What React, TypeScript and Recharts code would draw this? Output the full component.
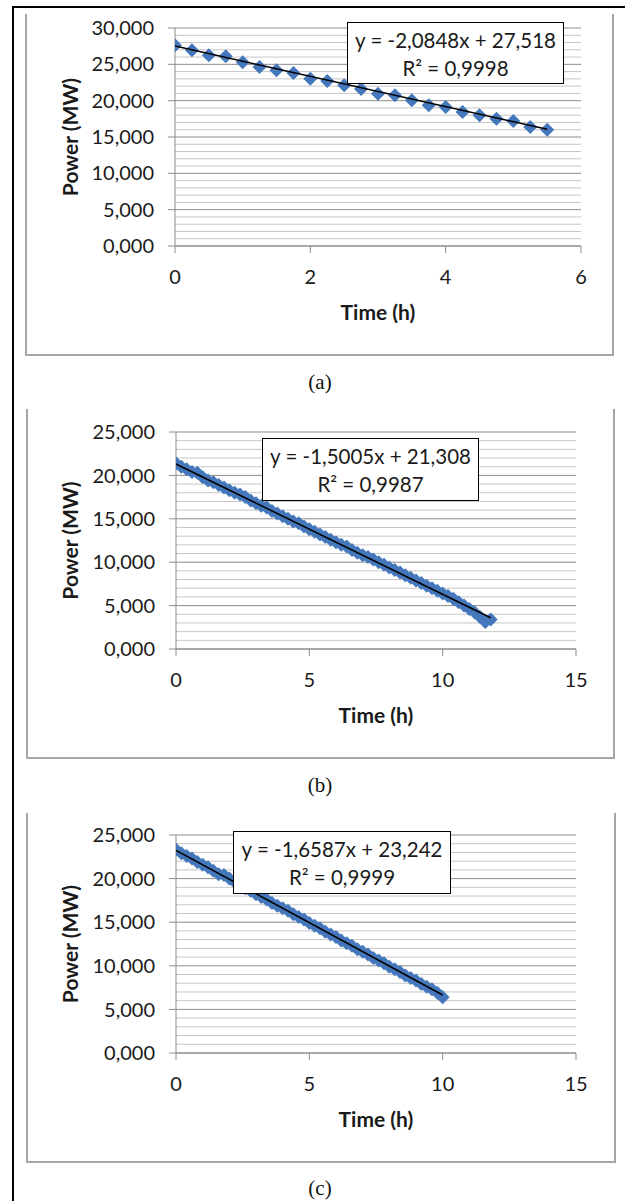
import React from 'react';
import { ScatterChart, Scatter, XAxis, YAxis, CartesianGrid, Label } from 'recharts';

// ---------- data ----------
const timeA = [0, 0.25, 0.5, 0.75, 1, 1.25, 1.5, 1.75, 2, 2.25, 2.5, 2.75, 3, 3.25, 3.5, 3.75, 4, 4.25, 4.5, 4.75, 5, 5.25, 5.5];
const powerA = [27.62, 26.93, 26.24, 26.1, 25.28, 24.63, 24.18, 23.81, 23.03, 22.7, 22.11, 21.6, 20.96, 20.73, 20.05, 19.36, 19.13, 18.44, 17.98, 17.52, 17.2, 16.38, 16.01];

const timeB = [0, 0.2, 0.4, 0.6, 0.8, 1, 1.2, 1.4, 1.6, 1.8, 2, 2.2, 2.4, 2.6, 2.8, 3, 3.2, 3.4, 3.6, 3.8, 4, 4.2, 4.4, 4.6, 4.8, 5, 5.2, 5.4, 5.6, 5.8, 6, 6.2, 6.4, 6.6, 6.8, 7, 7.2, 7.4, 7.6, 7.8, 8, 8.2, 8.4, 8.6, 8.8, 9, 9.2, 9.4, 9.6, 9.8, 10, 10.2, 10.4, 10.6, 10.8, 11, 11.2, 11.4, 11.6, 11.8];
const powerB = [21.4, 21.0, 20.7, 20.4, 20.3, 19.8, 19.4, 19.2, 18.9, 18.6, 18.3, 18.0, 17.8, 17.5, 17.1, 16.8, 16.5, 16.3, 15.9, 15.6, 15.3, 15.0, 14.7, 14.5, 14.1, 13.8, 13.5, 13.2, 12.9, 12.6, 12.3, 12.0, 11.8, 11.4, 11.1, 10.8, 10.6, 10.3, 10.0, 9.7, 9.4, 9.1, 8.8, 8.5, 8.2, 7.9, 7.6, 7.3, 7.0, 6.7, 6.4, 6.1, 5.8, 5.4, 5.0, 4.6, 4.2, 3.7, 3.1, 3.4];

const timeC = [0, 0.2, 0.4, 0.6, 0.8, 1, 1.2, 1.4, 1.6, 1.8, 2, 2.2, 2.4, 2.6, 2.8, 3, 3.2, 3.4, 3.6, 3.8, 4, 4.2, 4.4, 4.6, 4.8, 5, 5.2, 5.4, 5.6, 5.8, 6, 6.2, 6.4, 6.6, 6.8, 7, 7.2, 7.4, 7.6, 7.8, 8, 8.2, 8.4, 8.6, 8.8, 9, 9.2, 9.4, 9.6, 9.8, 10];
const powerC = [23.3, 22.9, 22.6, 22.3, 21.9, 21.6, 21.3, 20.9, 20.5, 20.4, 20.0, 19.6, 19.2, 18.9, 18.6, 18.2, 17.9, 17.6, 17.2, 16.9, 16.6, 16.3, 15.9, 15.6, 15.3, 14.9, 14.6, 14.3, 13.9, 13.6, 13.3, 12.9, 12.6, 12.3, 11.9, 11.6, 11.3, 10.9, 10.6, 10.3, 9.9, 9.6, 9.3, 8.9, 8.6, 8.3, 7.9, 7.6, 7.3, 6.9, 6.4];

// trendline end points
const trendTimeA = [0, 5.5];
const trendPowerA = [27.518, 16.052];
const trendTimeB = [0, 11.8];
const trendPowerB = [21.308, 3.602];
const trendTimeC = [0, 10];
const trendPowerC = [23.242, 6.655];

// axis ticks
const xTicksA = [0, 2, 4, 6];
const yTicksA = [0, 5, 10, 15, 20, 25, 30];
const yMinorA = [1, 2, 3, 4, 6, 7, 8, 9, 11, 12, 13, 14, 16, 17, 18, 19, 21, 22, 23, 24, 26, 27, 28, 29];
const xTicksBC = [0, 5, 10, 15];
const yTicksBC = [0, 5, 10, 15, 20, 25];
const yMinorBC = [1, 2, 3, 4, 6, 7, 8, 9, 11, 12, 13, 14, 16, 17, 18, 19, 21, 22, 23, 24];

// labels
const eqA = ['y = -2,0848x + 27,518', 'R² = 0,9998'];
const eqB = ['y = -1,5005x + 21,308', 'R² = 0,9987'];
const eqC = ['y = -1,6587x + 23,242', 'R² = 0,9999'];
const xTitle = 'Time (h)';
const yTitle = 'Power (MW)';
const captions = ['(a)', '(b)', '(c)'];

// ---------- styling ----------
const FONT = "Lato, 'Open Sans', sans-serif";
const BLUE = '#4477bb';
const AXIS = '#8c8c8c';
const MINOR = '#c6c6c6';

const toPts = (xs: number[], ys: number[]) => xs.map((x, i) => ({ x, y: ys[i] }));
const fmtY = (v: number) => v.toFixed(3).replace('.', ',');

const makeDiamond = (r: number) => (p: any) => {
  const { cx, cy } = p;
  if (cx == null || cy == null) return <g />;
  return (
    <polygon
      points={`${cx},${cy - r} ${cx + r},${cy} ${cx},${cy + r} ${cx - r},${cy}`}
      fill={BLUE}
    />
  );
};
const NoShape = () => <g />;

const XTitle = (props: any) => {
  const vb = props.viewBox || {};
  return (
    <text x={vb.x + vb.width / 2} y={vb.y + 65} textAnchor="middle" dominantBaseline="central"
      fontFamily={FONT} fontWeight={700} fontSize={21} fill="#1a1a1a">{xTitle}</text>
  );
};
const YTitle = (props: any) => {
  const vb = props.viewBox || {};
  const cx = vb.x + 69;
  const cy = vb.y + vb.height / 2;
  return (
    <text x={cx} y={cy} transform={`rotate(-90 ${cx} ${cy})`} textAnchor="middle" dominantBaseline="central"
      fontFamily={FONT} fontWeight={700} fontSize={21} fill="#1a1a1a">{yTitle}</text>
  );
};

type PanelProps = {
  height: number;
  margin: { top: number; right: number; left: number; bottom: number };
  yWidth: number;
  xMax: number;
  xTicks: number[];
  yMax: number;
  yTicks: number[];
  yMinor: number[];
  points: { x: number; y: number }[];
  trend: { x: number; y: number }[];
  r: number;
};

function Panel(p: PanelProps) {
  const tickStyle = { fill: '#1a1a1a', fontSize: 20, fontFamily: FONT };
  return (
    <ScatterChart width={625} height={p.height} margin={p.margin}>
      <CartesianGrid vertical={false} horizontalValues={p.yMinor} stroke={MINOR} strokeWidth={1} />
      <CartesianGrid vertical={false} horizontalValues={p.yTicks} stroke={AXIS} strokeWidth={1} />
      <XAxis type="number" dataKey="x" domain={[0, p.xMax]} ticks={p.xTicks} interval={0}
        height={100} tickSize={7} tickMargin={17} stroke={AXIS} tick={tickStyle} allowDataOverflow>
        <Label content={XTitle} />
      </XAxis>
      <YAxis type="number" dataKey="y" domain={[0, p.yMax]} ticks={p.yTicks} interval={0}
        width={p.yWidth} tickSize={7} tickMargin={14} stroke={AXIS} tick={tickStyle}
        tickFormatter={fmtY} allowDataOverflow>
        <Label content={YTitle} />
      </YAxis>
      <Scatter data={p.points} shape={makeDiamond(p.r)} isAnimationActive={false} />
      <Scatter data={p.trend} shape={NoShape} line={{ stroke: '#000', strokeWidth: 1.5 }}
        isAnimationActive={false} />
    </ScatterChart>
  );
}

const frameStyle = (left: number, top: number, width: number, height: number): React.CSSProperties => ({
  position: 'absolute', left, top, width, height, boxSizing: 'border-box',
  borderLeft: '2px solid #a6a6a6', borderRight: '2px solid #a6a6a6', borderBottom: '2px solid #a6a6a6',
});

const EqBox = ({ left, top, width, height, lines }: { left: number; top: number; width: number; height: number; lines: string[] }) => (
  <div style={{
    position: 'absolute', left, top, width, height, boxSizing: 'border-box', background: '#fff',
    border: '1.5px solid #000', fontFamily: FONT, fontSize: 20.5, lineHeight: '28px', color: '#1a1a1a',
    textAlign: 'center', paddingTop: 3, whiteSpace: 'nowrap',
  }}>
    <div>{lines[0]}</div>
    <div>{lines[1]}</div>
  </div>
);

const Caption = ({ top, text }: { top: number; text: string }) => (
  <div style={{
    position: 'absolute', left: 0, width: 640, top, textAlign: 'center',
    fontFamily: "'Liberation Serif', 'DejaVu Serif', serif", fontSize: 21, lineHeight: '24px', color: '#111',
  }}>{text}</div>
);

export default function App() {
  return (
    <div style={{ position: 'absolute', left: 0, top: 0, width: 625, height: 1201, background: '#fff', overflow: 'hidden' }}>
      {/* outer figure border */}
      <div style={{ position: 'absolute', left: 12, top: 6, width: 613, height: 2, background: '#000' }} />
      <div style={{ position: 'absolute', left: 12, top: 6, width: 2, height: 1195, background: '#000' }} />

      {/* chart frames */}
      <div style={frameStyle(25, 14, 589, 342)} />
      <div style={frameStyle(26, 409, 589, 350)} />
      <div style={frameStyle(26, 813, 590, 350)} />

      <div style={{ position: 'absolute', left: 0, top: 0 }}>
        <Panel height={400} margin={{ top: 28, right: 44, left: 0, bottom: 54 }} yWidth={175}
          xMax={6} xTicks={xTicksA} yMax={30} yTicks={yTicksA} yMinor={yMinorA}
          points={toPts(timeA, powerA)} trend={toPts(trendTimeA, trendPowerA)} r={7} />
      </div>
      <div style={{ position: 'absolute', left: 0, top: 400 }}>
        <Panel height={400} margin={{ top: 32, right: 49, left: 0, bottom: 51 }} yWidth={176}
          xMax={15} xTicks={xTicksBC} yMax={25} yTicks={yTicksBC} yMinor={yMinorBC}
          points={toPts(timeB, powerB)} trend={toPts(trendTimeB, trendPowerB)} r={7} />
      </div>
      <div style={{ position: 'absolute', left: 0, top: 800 }}>
        <Panel height={401} margin={{ top: 35, right: 49, left: 0, bottom: 48 }} yWidth={176}
          xMax={15} xTicks={xTicksBC} yMax={25} yTicks={yTicksBC} yMinor={yMinorBC}
          points={toPts(timeC, powerC)} trend={toPts(trendTimeC, trendPowerC)} r={7} />
      </div>

      <EqBox left={347} top={22} width={217} height={62} lines={eqA} />
      <EqBox left={262} top={438} width={217} height={63} lines={eqB} />
      <EqBox left={233} top={831} width={218} height={63} lines={eqC} />

      <Caption top={370} text={captions[0]} />
      <Caption top={773} text={captions[1]} />
      <Caption top={1176} text={captions[2]} />
    </div>
  );
}
